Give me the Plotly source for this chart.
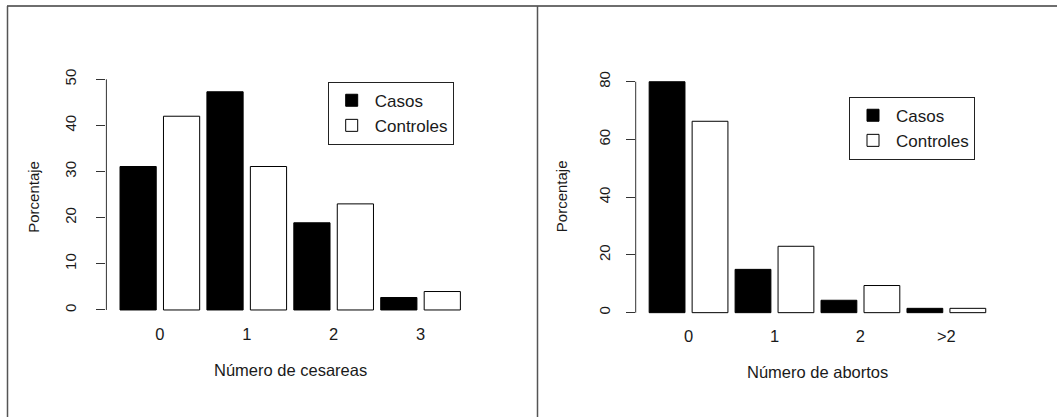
import plotly.graph_objects as go

# ---- data ----
cat_cesareas = ["0", "1", "2", "3"]
casos_cesareas = [31.1, 47.3, 18.9, 2.7]
controles_cesareas = [42.0, 31.1, 23.0, 4.0]

cat_abortos = ["0", "1", "2", ">2"]
casos_abortos = [80.0, 15.0, 4.3, 1.5]
controles_abortos = [66.3, 23.0, 9.4, 1.5]

yticks_cesareas = [0, 10, 20, 30, 40, 50]
yticks_abortos = [0, 20, 40, 60, 80]

W, H = 1057, 417
FONT = "Liberation Sans, Arial, sans-serif"
TXT = "#1a1a1a"

def px(x):
    return x / W

def py(y):
    return 1 - y / H

fig = go.Figure()

common_bar = dict(marker_line=dict(color="black", width=1))

fig.add_trace(go.Bar(x=cat_cesareas, y=casos_cesareas, name="Casos",
                     marker_color="black", xaxis="x", yaxis="y",
                     legend="legend", **common_bar))
fig.add_trace(go.Bar(x=cat_cesareas, y=controles_cesareas, name="Controles",
                     marker_color="white", xaxis="x", yaxis="y",
                     legend="legend", **common_bar))
fig.add_trace(go.Bar(x=cat_abortos, y=casos_abortos, name="Casos",
                     marker_color="black", xaxis="x2", yaxis="y2",
                     legend="legend2", **common_bar))
fig.add_trace(go.Bar(x=cat_abortos, y=controles_abortos, name="Controles",
                     marker_color="white", xaxis="x2", yaxis="y2",
                     legend="legend2", **common_bar))

xcommon = dict(type="category", showline=False, ticks="", showgrid=False,
               zeroline=False, range=[-0.615, 3.615],
               tickfont=dict(family=FONT, size=16.5, color=TXT),
               ticklabelstandoff=3)
ycommon = dict(showline=False, ticks="outside", ticklen=9, tickwidth=1,
               tickcolor="#333", showgrid=False, zeroline=False,
               tickangle=-90, tickfont=dict(family=FONT, size=15, color=TXT))

legcommon = dict(xanchor="left", yanchor="top", bordercolor="#222",
                 borderwidth=1, bgcolor="white",
                 font=dict(family=FONT, size=17, color=TXT),
                 tracegroupgap=0, itemwidth=36, itemclick=False)

fig.update_layout(
    width=W, height=H,
    margin=dict(l=0, r=0, t=0, b=0),
    paper_bgcolor="white", plot_bgcolor="white",
    barmode="group", bargap=0, bargroupgap=0.1667,
    showlegend=True,
    xaxis=dict(domain=[px(106.4), px(474)], anchor="y", **xcommon),
    yaxis=dict(domain=[py(319.2), py(70.1)], anchor="x", range=[-2, 52],
               tickvals=yticks_cesareas, ticklabelstandoff=14, **ycommon),
    xaxis2=dict(domain=[px(635.7), px(999.2)], anchor="y2", **xcommon),
    yaxis2=dict(domain=[py(321.9), py(72.5)], anchor="x2", range=[-3.2, 83.2],
                tickvals=yticks_abortos, ticklabelstandoff=10, **ycommon),
    legend=dict(x=px(327.7), y=py(81.7), **legcommon),
    legend2=dict(x=px(849), y=py(96.7), **legcommon),
)

# axis lines spanning only the tick range (R style)
fig.add_shape(type="line", xref="x domain", yref="y", x0=0, x1=0,
              y0=yticks_cesareas[0], y1=yticks_cesareas[-1],
              line=dict(color="#333", width=1))
fig.add_shape(type="line", xref="x2 domain", yref="y2", x0=0, x1=0,
              y0=yticks_abortos[0], y1=yticks_abortos[-1],
              line=dict(color="#333", width=1))

# frame lines
fig.add_shape(type="line", xref="paper", yref="paper", x0=px(7), x1=1,
              y0=py(6), y1=py(6), line=dict(color="#6e6e6e", width=2))
for xv in (7.5, 537.5):
    fig.add_shape(type="line", xref="paper", yref="paper", x0=px(xv), x1=px(xv),
                  y0=py(6), y1=0, line=dict(color="#555", width=1.5))

# axis titles
ann = dict(xref="paper", yref="paper", showarrow=False,
           xanchor="center", yanchor="middle")
fig.add_annotation(text="Número de cesareas", x=px(290.5), y=py(370),
                   font=dict(family=FONT, size=16.5, color=TXT), **ann)
fig.add_annotation(text="Número de abortos", x=px(817.5), y=py(371.7),
                   font=dict(family=FONT, size=16.5, color=TXT), **ann)
fig.add_annotation(text="Porcentaje", x=px(33.3), y=py(196.5), textangle=-90,
                   font=dict(family=FONT, size=15, color=TXT), **ann)
fig.add_annotation(text="Porcentaje", x=px(561.7), y=py(196.5), textangle=-90,
                   font=dict(family=FONT, size=15, color=TXT), **ann)

fig.write_html("out.html",
               config={"displayModeBar": False},
               post_script="document.body.style.margin='0';document.body.style.overflow='hidden';")
